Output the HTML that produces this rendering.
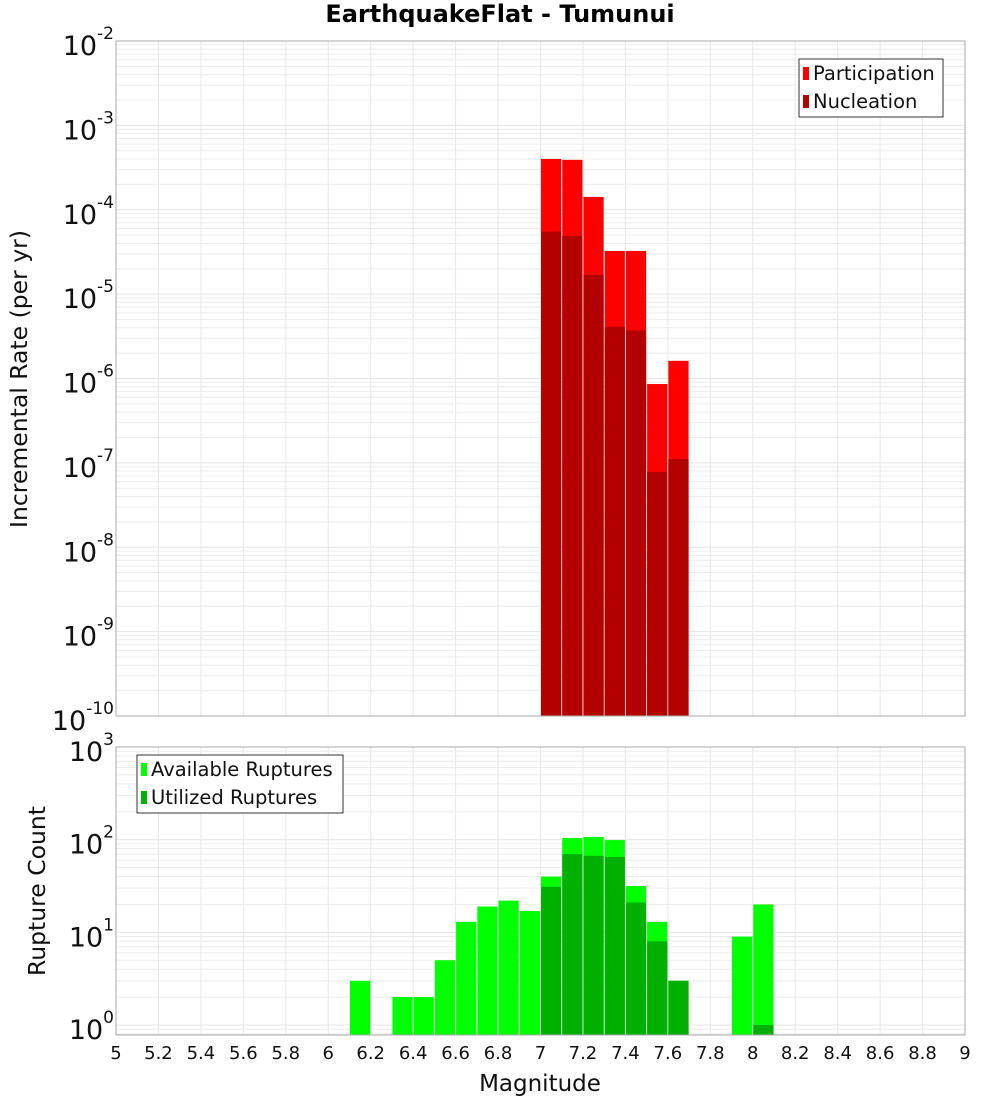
<!DOCTYPE html>
<html><head><meta charset="utf-8"><style>
body{margin:0;background:#fff}
svg text{font-family:"DejaVu Sans","Liberation Sans",sans-serif}
</style></head><body>
<svg id="c" width="1000" height="1100" xmlns="http://www.w3.org/2000/svg"></svg>
<script>
const topMags=[7.0,7.1,7.2,7.3,7.4,7.5,7.6];
const participation=[4.0e-4,3.9e-4,1.42e-4,3.25e-5,3.25e-5,8.6e-7,1.62e-6];
const nucleation=[5.5e-5,4.9e-5,1.69e-5,4.1e-6,3.7e-6,7.8e-8,1.11e-7];
const botMags=[6.1,6.3,6.4,6.5,6.6,6.7,6.8,6.9,7.0,7.1,7.2,7.3,7.4,7.5,7.6,7.9,8.0];
const available=[3,2,2,5,13,19,22,17,40,104,107,99,31.6,13,3,9,20];
const utilized=[0,0,0,0,0,0,0,0,31,70,67,65,21,8,3,0,1];
const xTicks=[5,5.2,5.4,5.6,5.8,6,6.2,6.4,6.6,6.8,7,7.2,7.4,7.6,7.8,8,8.2,8.4,8.6,8.8,9];
const topExps=[-2,-3,-4,-5,-6,-7,-8,-9,-10];
const botExps=[3,2,1,0];

const svg=document.getElementById('c');const NS='http://www.w3.org/2000/svg';
function el(tag,attrs,parent){const e=document.createElementNS(NS,tag);for(const k in attrs)e.setAttribute(k,attrs[k]);(parent||svg).appendChild(e);return e;}
const L=116,R=965;
const xS=m=>L+(m-5)*(R-L)/4;
const T={top:41,bot:716,lmin:-10,lmax:-2};
const B={top:747,bot:1035,lmin:Math.log10(0.78),lmax:3};
const yS=(P,v)=>P.bot-(Math.log10(v)-P.lmin)/(P.lmax-P.lmin)*(P.bot-P.top);

function grid(P,dmin,dmax,name){
  const g=el('g',{});
  for(let d=dmin;d<dmax;d++)for(let k=1;k<10;k++){const v=k*Math.pow(10,d);const y=yS(P,v);if(y<P.top-0.5||y>P.bot+0.5)continue;
    el('line',{x1:L,x2:R,y1:y,y2:y,stroke:k==1?'#e4e4e4':'#ececec','stroke-width':1},g);}
  xTicks.forEach(t=>{const x=xS(t);el('line',{x1:x,x2:x,y1:P.top,y2:P.bot,stroke:'#e8e8e8'},g);});
}
grid(T,-10,-1,'top-grid');grid(B,-1,4,'bottom-grid');

topMags.forEach((m,i)=>{
  const x=xS(m)+0.5,w=xS(m+0.1)-xS(m)-1;
  let y=yS(T,participation[i]);
  let r=el('rect',{x:x,y:y,width:w,height:T.bot-y,fill:'#ff0000'});
  
  y=yS(T,nucleation[i]);
  r=el('rect',{x:x,y:y,width:w,height:T.bot-y,fill:'#b30000'});
  
});
botMags.forEach((m,i)=>{
  const x=xS(m)+0.5,w=xS(m+0.1)-xS(m)-1;
  let y=yS(B,available[i]);
  let r=el('rect',{x:x,y:y,width:w,height:B.bot-y,fill:'#00ff00'});
  
  if(utilized[i]>0){y=yS(B,utilized[i]);
  r=el('rect',{x:x,y:y,width:w,height:B.bot-y,fill:'#00b000'});
  }
});
[T,B].forEach((P,j)=>{const f=el('rect',{x:L,y:P.top,width:R-L,height:P.bot-P.top,fill:'none',stroke:'#a8a8a8'});
});

function ylab(P,e,name){const y=yS(P,Math.pow(10,e));
  const t=el('text',{x:114,y:y+14,'text-anchor':'end','font-size':27,fill:'#111'});
  
  t.textContent='10';const s=el('tspan',{dy:-16,'font-size':17},t);s.textContent=String(e);}
topExps.forEach(e=>ylab(T,e,'top-y-tick-label'));
botExps.forEach(e=>ylab(B,e,'bottom-y-tick-label'));
xTicks.forEach(t=>{const tx=el('text',{x:xS(t),y:1059,'text-anchor':'middle','font-size':18,fill:'#111'});
  tx.textContent=String(t);});

function txt(a,s,name){const t=el('text',a);t.textContent=s;return t;}
txt({x:500,y:22,'text-anchor':'middle','font-size':24,'font-weight':'bold'},'EarthquakeFlat - Tumunui','chart-title');
txt({x:540,y:1091,'text-anchor':'middle','font-size':23,fill:'#111'},'Magnitude','x-axis-title');
txt({x:0,y:0,'text-anchor':'middle','font-size':23.5,fill:'#111',transform:'translate(27,379) rotate(-90)'},'Incremental Rate (per yr)','top-y-axis-title');
txt({x:0,y:0,'text-anchor':'middle','font-size':23.5,fill:'#111',transform:'translate(45,891) rotate(-90)'},'Rupture Count','bottom-y-axis-title');

function legend(x,y,w,items,name){const g=el('g',{});
  el('rect',{x:x,y:y,width:w,height:58,fill:'#fff',stroke:'#333'},g);
  items.forEach((it,i)=>{el('rect',{x:x+4,y:y+8+i*28,width:6,height:13,fill:it[1]},g);
    const t=el('text',{x:x+14,y:y+21+i*28,'font-size':19.5,fill:'#111'},g);t.textContent=it[0];});}
legend(799,59,144,[['Participation','#ff0000'],['Nucleation','#b30000']],'top-legend');
legend(137,755,206,[['Available Ruptures','#00ff00'],['Utilized Ruptures','#00b000']],'bottom-legend');
</script>
</body></html>
